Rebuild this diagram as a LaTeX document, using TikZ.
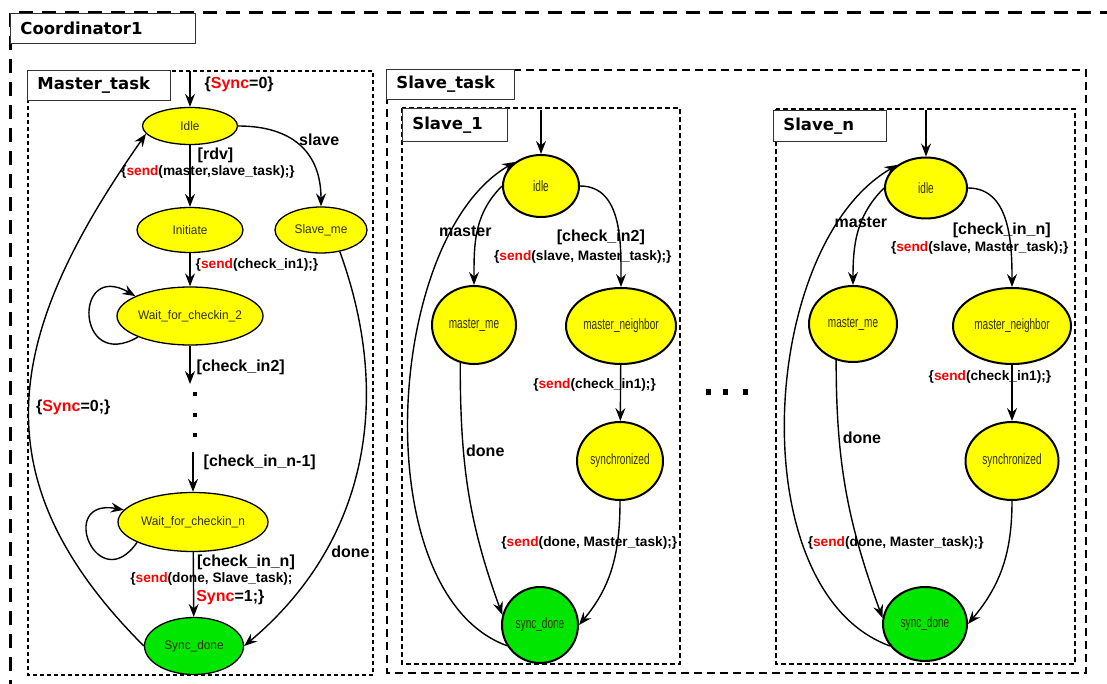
\documentclass[tikz,border=0pt]{standalone}
\usepackage{fontspec}
\setmainfont{Liberation Sans}
\newfontfamily\hdrfont{DejaVu Sans}
\newfontfamily\mstfont{Liberation Sans}[FakeStretch=0.95]
\newfontfamily\sstfont{Liberation Sans}[FakeStretch=0.67]
\usetikzlibrary{shapes.geometric,arrows.meta}
\definecolor{stateyellow}{RGB}{255,255,0}
\definecolor{stategreen}{RGB}{0,230,0}
\definecolor{statetext}{RGB}{50,50,0}
\newcommand{\sendkw}{\textcolor{red}{send}}
\newcommand{\synckw}{\textcolor{red}{Sync}}

\begin{document}
\begin{tikzpicture}[x=1pt, y=1pt,
  hdr/.style={draw=black!80, line width=.8pt, fill=white, anchor=north west, inner xsep=10pt, align=left, font=\hdrfont\bfseries\fontsize{16.5}{18}\selectfont},
  mstate/.style={ellipse, draw, line width=1.3pt, fill=stateyellow, inner sep=0pt, inner xsep=-20pt, text=statetext, font=\mstfont\fontsize{12.5}{14}\selectfont},
  sstate/.style={mstate, line width=2pt, font=\sstfont\fontsize{15}{17}\selectfont},
  trans/.style={-{Stealth[length=13pt,width=10pt,inset=4.5pt]}, line width=1.4pt},
  guard/.style={font=\bfseries\fontsize{16}{18}\selectfont, inner sep=0pt},
  act/.style={font=\bfseries\fontsize{13.7}{15}\selectfont, inner sep=0pt}]
  \useasboundingbox (0,0) rectangle (1107,-684);
  \clip (0,0) rectangle (1107,-684);

  % frames
  \draw[line width=3pt, dash pattern=on 14pt off 9pt] (10,-13) rectangle (1130,-710);
  \draw[line width=1.6pt, dash pattern=on 4pt off 3pt] (28,-71) rectangle (373,-675);
  \draw[line width=2pt, dash pattern=on 8pt off 5pt] (387,-70) rectangle (1086,-673);
  \draw[line width=1.6pt, dash pattern=on 5pt off 3pt] (402,-108) rectangle (680,-664);
  \draw[line width=1.6pt, dash pattern=on 5pt off 3pt] (776,-109) rectangle (1075,-664);

  \node[hdr, text width=165pt, minimum height=30pt] (coordhdr) at (10,-13) {Coordinator1};
  \node[hdr, text width=123pt, minimum height=30pt] (masterhdr) at (27,-70) {Master\_task};
  \node[hdr, text width=108pt, minimum height=30pt] (slavehdr) at (386,-69) {Slave\_task};
  \node[hdr, text width=85pt, minimum height=33pt] (sonehdr) at (402,-108) {Slave\_1};
  \node[hdr, text width=93pt, minimum height=31pt] (snhdr) at (773,-110) {Slave\_n};

  % Master_task
  \node[mstate, minimum width=95pt, minimum height=37pt] (idle) at (190,-126) {Idle};
  \node[mstate, minimum width=106pt, minimum height=45pt] (init) at (190,-230) {Initiate};
  \node[mstate, minimum width=92pt, minimum height=46pt] (slme) at (321,-230) {Slave\_me};
  \node[mstate, minimum width=146pt, minimum height=58pt] (wtwo) at (190,-316) {Wait\_for\_checkin\_2};
  \node[mstate, minimum width=150pt, minimum height=59pt] (wn) at (193,-522) {Wait\_for\_checkin\_n};
  \node[mstate, fill=stategreen, minimum width=99pt, minimum height=57pt] (sdone) at (194,-646) {Sync\_done};
  \coordinate (m-in) at (190,-71);
  \coordinate (dots-top) at (190,-384);
  \coordinate (dots-bot) at (193,-452);

  \path[trans]
  (m-in) edge node[guard, pos=.38, right=14pt] {\{\synckw=0\}} (idle)
  (idle) edge node[guard, pos=.17, right=7pt] {[rdv]}
              node[act, pos=.44, xshift=18pt] {\{\sendkw(master,slave\_task);\}} (init)
  (idle.east) edge[out=0, in=90, looseness=1.2] node[guard, pos=.35, right=13pt, yshift=-4pt] {slave} (slme.north)
  (init) edge node[act, pos=.37, right=5pt] {\{\sendkw(check\_in1);\}} (wtwo)
  (wtwo.202) edge[out=210, in=150, looseness=4.5] (wtwo.160)
  (wtwo) edge node[guard, pos=.56, right=6pt] {[check\_in2]} (dots-top)
  (dots-bot) edge node[guard, pos=.27, right=10pt] {[check\_in\_n-1]} (wn)
  (wn.200) edge[out=235, in=170, looseness=5] (wn.170)
  (wn) edge node[guard, pos=.16, right=3pt] {[check\_in\_n]}
            node[act, pos=.42, xshift=18pt] {\{\sendkw(done, Slave\_task);}
            node[guard, pos=.70, right=2pt] {\synckw=1;\}} (sdone)
  (slme.311) edge[out=-70, in=40] node[guard, pos=.72, right=6pt] {done} (sdone.east)
  (sdone.west) edge[out=135, in=235, looseness=1.2] node[guard, pos=.5, right=6pt, yshift=-7pt] {\{\synckw=0;\}} (idle.190);

  \fill (193,-392) rectangle (197,-396);
  \fill (193,-413) rectangle (197,-417);
  \fill (193,-433) rectangle (197,-437);

  % Slave_1
  \node[sstate, minimum width=76pt, minimum height=62pt] (s1idle) at (541,-186) {idle};
  \node[sstate, minimum width=84pt, minimum height=78pt] (s1mme) at (474,-325) {master\_me};
  \node[sstate, minimum width=110pt, minimum height=76pt] (s1mnb) at (621,-326) {master\_neighbor};
  \node[sstate, minimum width=86pt, minimum height=78pt] (s1sync) at (620,-461) {synchronized};
  \node[sstate, fill=stategreen, minimum width=76pt, minimum height=76pt] (s1sdone) at (540,-625) {sync\_done};
  \coordinate (s1-in) at (541,-110);

  \path[trans]
  (s1-in) edge (s1idle)
  (s1idle.west) edge[out=225, in=90] node[guard, pos=.5, xshift=-12pt] {master} (s1mme.north)
  (s1idle.east) edge[out=0, in=90] node[guard, pos=.6, xshift=-18pt, yshift=-4.5pt] {[check\_in2]}
              node[act, pos=.6, xshift=-36pt, yshift=-23.5pt] {\{\sendkw(slave, Master\_task);\}} (s1mnb.north)
  (s1mnb) edge node[act, pos=.36, xshift=-26pt] {\{\sendkw(check\_in1);\}} (s1sync)
  (s1sync.south) edge[out=-90, in=50] node[act, pos=.3, xshift=-28pt] {\{\sendkw(done, Master\_task);\}} (s1sdone.east)
  (s1mme.250) edge[out=-90, in=110] node[guard, pos=.33, right=2pt] {done} (s1sdone.165)
  (s1sdone.212) edge[out=160, in=210, looseness=.8] (s1idle.137);

  % dots between slaves
  \fill (706,-389) rectangle (711,-395);
  \fill (723,-389) rectangle (728,-395);
  \fill (743,-389) rectangle (748,-395);

  % Slave_n
  \node[sstate, minimum width=82pt, minimum height=61pt] (sNidle) at (926,-188) {idle};
  \node[sstate, minimum width=88pt, minimum height=76pt] (sNmme) at (853,-324) {master\_me};
  \node[sstate, minimum width=118pt, minimum height=76pt] (sNmnb) at (1012,-326) {master\_neighbor};
  \node[sstate, minimum width=93pt, minimum height=78pt] (sNsync) at (1012,-461) {synchronized};
  \node[sstate, fill=stategreen, minimum width=84pt, minimum height=74pt] (sNsdone) at (925,-624) {sync\_done};
  \coordinate (sN-in) at (926,-110);

  \path[trans]
  (sN-in) edge (sNidle)
  (sNidle.west) edge[out=225, in=90] node[guard, pos=.4] {master} (sNmme.north)
  (sNidle.east) edge[out=0, in=90] node[guard, pos=.6, xshift=-7pt, yshift=3.5pt] {[check\_in\_n]}
              node[act, pos=.6, xshift=-29pt, yshift=-14.5pt] {\{\sendkw(slave, Master\_task);\}} (sNmnb.north)
  (sNmnb) edge node[act, pos=.22, xshift=-22pt] {\{\sendkw(check\_in1);\}} (sNsync)
  (sNsync.south) edge[out=-90, in=50] node[act, pos=.3, xshift=-113pt] {\{\sendkw(done, Master\_task);\}} (sNsdone.east)
  (sNmme.245) edge[out=-90, in=110] node[guard, pos=.28, right=3pt] {done} (sNsdone.172)
  (sNsdone.212) edge[out=160, in=210, looseness=.85] (sNidle.141);
\end{tikzpicture}
\end{document}
